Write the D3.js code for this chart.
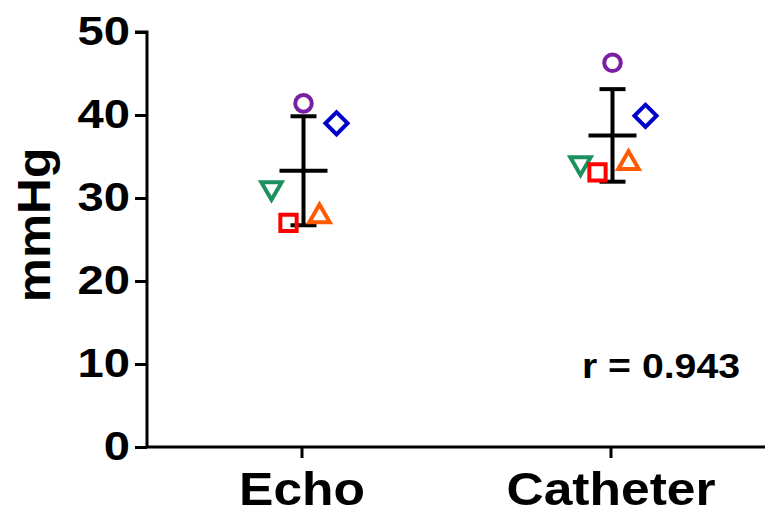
<!DOCTYPE html>
<html>
<head>
<meta charset="utf-8">
<script src="https://cdn.jsdelivr.net/npm/d3@7/dist/d3.min.js"></script>
<style>
  html, body { margin: 0; padding: 0; background: #fff; }
  svg { display: block; }
  text { font-family: "Liberation Sans", Arial, Helvetica, sans-serif; font-weight: bold; fill: #000; }
</style>
</head>
<body>
<svg id="chart" width="765" height="516"></svg>
<script>
// ---- data ----
const categories = ["Echo", "Catheter"];
const subjects = ["S1", "S2", "S3", "S4", "S5"];
const echoValues = [41.4, 39.0, 31.2, 27.0, 27.8];
const catheterValues = [46.3, 39.9, 34.2, 33.1, 34.2];
const yTicks = [0, 10, 20, 30, 40, 50];
const yLabel = "mmHg";
const annotation = "r = 0.943";
const subjectColors = ["#7b1fa2", "#0000cc", "#1b9160", "#ff0000", "#ff5a00"];

(function () {
// ---- layout ----
const svg = d3.select("#chart");
const padL = 147, padR = 765, padT = 32, padB = 447;

const x = d3.scalePoint().domain(categories).range([padL, padR]).padding(0.5);
const y = d3.scaleLinear().domain([0, 50]).range([padB, padT]);

// stretch text horizontally (reference glyphs are wider than normal)
function stretch(sel, k) {
  sel.each(function () {
    const len = this.getComputedTextLength();
    d3.select(this).attr("textLength", len * k).attr("lengthAdjust", "spacingAndGlyphs");
  });
}

// symbols per subject
const symbolDefs = [
  { type: d3.symbolCircle, size: 215, rot: 0, dx: 0 },
  { type: d3.symbolSquare, size: 245, rot: 45, dx: 33 },
  { type: d3.symbolTriangle, size: 180, rot: 180, dx: -32 },
  { type: d3.symbolSquare, size: 265, rot: 0, dx: -15 },
  { type: d3.symbolTriangle, size: 180, rot: 0, dx: 16 }
];
const barShift = 2;

// ---- axes ----
const yAxis = d3.axisLeft(y).tickValues(yTicks).tickSize(12).tickPadding(5).tickFormat(d3.format("d"));
const gy = svg.append("g").attr("transform", `translate(${padL},0)`).call(yAxis);
gy.select(".domain").attr("stroke", "#000").attr("stroke-width", 3).attr("d", `M-12,${padT}H0V${padB}`);
gy.selectAll(".tick line").attr("stroke", "#000").attr("stroke-width", 3);
gy.selectAll(".tick text").style("font-size", "41px").attr("dy", "0.3em").call(stretch, 1.15);

const xAxis = d3.axisBottom(x).tickSize(11).tickPadding(14);
const gx = svg.append("g").attr("transform", `translate(0,${padB})`).call(xAxis);
gx.select(".domain").attr("stroke", "#000").attr("stroke-width", 3).attr("d", `M${padL},0H${padR}`);
gx.selectAll(".tick line").attr("stroke", "#000").attr("stroke-width", 3);
gx.selectAll(".tick text").style("font-size", "46px").attr("dy", "0.71em").call(stretch, 1.12);

// y label
svg.append("text")
  .attr("transform", `translate(50,225) rotate(-90)`)
  .attr("text-anchor", "middle")
  .style("font-size", "46px")
  .text(yLabel)
  .call(stretch, 1.08);

// annotation
svg.append("text")
  .attr("x", 740).attr("y", 378)
  .attr("text-anchor", "end")
  .style("font-size", "35px")
  .text(annotation)
  .call(stretch, 1.12);

// ---- mean ± SD bars ----
const groups = [echoValues, catheterValues];
const stats = categories.map((c, i) => ({
  cat: c,
  mean: d3.mean(groups[i]),
  sd: d3.deviation(groups[i])
}));
const eb = svg.append("g").attr("stroke", "#000").attr("stroke-width", 4).attr("fill", "none");
stats.forEach(s => {
  const cx = x(s.cat) + barShift;
  eb.append("line").attr("x1", cx).attr("x2", cx).attr("y1", y(s.mean + s.sd)).attr("y2", y(s.mean - s.sd));
  eb.append("line").attr("x1", cx - 13).attr("x2", cx + 13).attr("y1", y(s.mean + s.sd)).attr("y2", y(s.mean + s.sd));
  eb.append("line").attr("x1", cx - 13).attr("x2", cx + 13).attr("y1", y(s.mean - s.sd)).attr("y2", y(s.mean - s.sd));
  eb.append("line").attr("x1", cx - 24).attr("x2", cx + 24).attr("y1", y(s.mean)).attr("y2", y(s.mean));
});

// ---- points ----
const pts = [];
subjects.forEach((s, i) => {
  categories.forEach((c, j) => pts.push({ subj: i, cat: c, v: groups[j][i] }));
});
svg.append("g").selectAll("path").data(pts).join("path")
  .attr("d", d => d3.symbol().type(symbolDefs[d.subj].type).size(symbolDefs[d.subj].size)())
  .attr("transform", d => `translate(${x(d.cat) + barShift + symbolDefs[d.subj].dx},${y(d.v)}) rotate(${symbolDefs[d.subj].rot})`)
  .attr("fill", "none")
  .attr("stroke", d => subjectColors[d.subj])
  .attr("stroke-width", 4);
})();
</script>
</body>
</html>
